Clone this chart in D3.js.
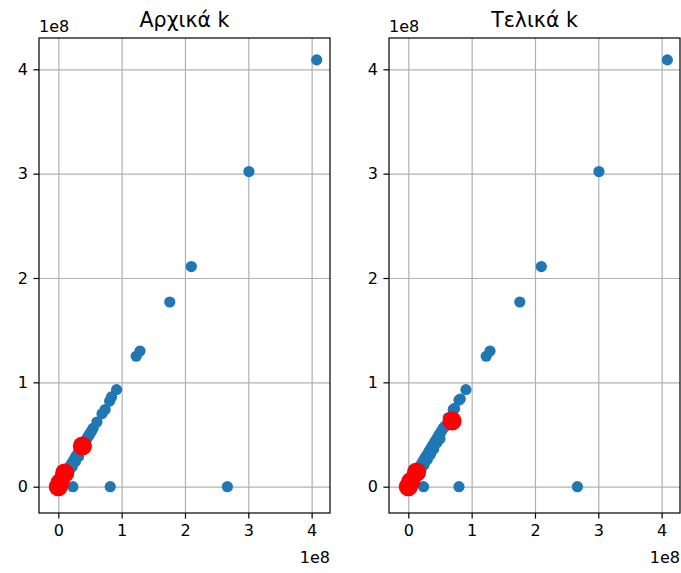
<!DOCTYPE html>
<html>
<head>
<meta charset="utf-8">
<script src="https://cdn.jsdelivr.net/npm/d3@7"></script>
<style>
  body { margin: 0; background: white; }
  text { font-family: "DejaVu Sans", sans-serif; fill: #000; }
</style>
</head>
<body>
<div id="chart"></div>
<script>
// Data (values in units of 1e8)
var titles = ["Αρχικά k", "Τελικά k"];
var tickValues = [0, 1, 2, 3, 4];

// initial k - blue points
var blueX1 = [0.0, 0.01, 0.02, 0.03, 0.05, 0.06, 0.08, 0.09, 0.11, 0.13, 0.14, 0.16, 0.18, 0.19, 0.21, 0.23, 0.25, 0.27, 0.28, 0.30, 0.32, 0.34, 0.36, 0.38, 0.40, 0.42, 0.44, 0.46, 0.48, 0.50, 0.52, 0.55,
              0.12, 0.17, 0.22, 0.27, 0.32,
              0.61, 0.69, 0.74, 0.81, 0.84, 0.92, 1.23, 1.29, 1.76, 2.10, 3.01, 4.08,
              0.23, 0.82, 2.67];
var blueY1 = [0.0, 0.01, 0.03, 0.04, 0.05, 0.07, 0.09, 0.10, 0.12, 0.14, 0.15, 0.17, 0.19, 0.20, 0.22, 0.24, 0.26, 0.28, 0.29, 0.31, 0.33, 0.35, 0.37, 0.39, 0.41, 0.43, 0.45, 0.47, 0.49, 0.51, 0.53, 0.56,
              0.10, 0.15, 0.19, 0.24, 0.29,
              0.62, 0.70, 0.74, 0.82, 0.86, 0.93, 1.25, 1.30, 1.77, 2.11, 3.02, 4.09,
              0.0, 0.0, 0.0];
// initial k - red points
var redX1 = [0.0, 0.03, 0.10, 0.38];
var redY1 = [0.0, 0.04, 0.13, 0.39];

// final k - blue points
var blueX2 = [0.0, 0.01, 0.02, 0.03, 0.05, 0.06, 0.08, 0.09, 0.11, 0.13, 0.14, 0.16, 0.18, 0.19, 0.21, 0.23, 0.25, 0.27, 0.28, 0.30, 0.32, 0.34, 0.36, 0.38, 0.40, 0.42, 0.44, 0.46, 0.48, 0.50, 0.52, 0.55,
              0.15, 0.20, 0.25, 0.30, 0.35, 0.40, 0.45, 0.50,
              0.58, 0.63, 0.71, 0.73, 0.80, 0.82, 0.91, 1.23, 1.29, 1.76, 2.10, 3.01, 4.09,
              0.24, 0.80, 2.67];
var blueY2 = [0.0, 0.01, 0.03, 0.04, 0.05, 0.07, 0.09, 0.10, 0.12, 0.14, 0.15, 0.17, 0.19, 0.20, 0.22, 0.24, 0.26, 0.28, 0.29, 0.31, 0.33, 0.35, 0.37, 0.39, 0.41, 0.43, 0.45, 0.47, 0.49, 0.51, 0.53, 0.56,
              0.12, 0.16, 0.21, 0.26, 0.31, 0.36, 0.42, 0.46,
              0.58, 0.66, 0.74, 0.75, 0.83, 0.84, 0.93, 1.25, 1.30, 1.77, 2.11, 3.02, 4.09,
              0.0, 0.0, 0.0];
// final k - red points
var redX2 = [0.0, 0.04, 0.13, 0.69];
var redY2 = [0.0, 0.05, 0.14, 0.63];

var blueSets = [[blueX1, blueY1], [blueX2, blueY2]];
var redSets = [[redX1, redY1], [redX2, redY2]];

// Layout
var W = 681, H = 573;
var panelLeft = [39, 389];
var panelTop = 38;
var width = 291;
var height = 475;

var svg = d3.select('#chart')
  .append('svg')
  .attr('width', W)
  .attr('height', H)
  .style("background-color", "white");

function drawPanel(p) {
  var x_scale = d3.scaleLinear()
    .domain([-0.305, 4.29])
    .range([0, width]);
  var y_scale = d3.scaleLinear()
    .domain([-0.252, 4.30])
    .range([height, 0]);

  var chart = svg.append('g')
    .attr("transform", "translate(" + panelLeft[p] + "," + panelTop + ")");

  // Gridlines
  chart.append("g")
    .attr("transform", "translate(0," + height + ")")
    .call(d3.axisBottom(x_scale).tickValues(tickValues).tickSize(-height).tickFormat(""))
    .call(function (g) { g.select(".domain").remove(); })
    .selectAll("line")
    .attr("stroke", "#b0b0b0")
    .attr("stroke-width", 1.2);

  chart.append("g")
    .call(d3.axisLeft(y_scale).tickValues(tickValues).tickSize(-width).tickFormat(""))
    .call(function (g) { g.select(".domain").remove(); })
    .selectAll("line")
    .attr("stroke", "#b0b0b0")
    .attr("stroke-width", 1.2);

  // Blue points
  var bx = blueSets[p][0], by = blueSets[p][1];
  chart.append("g")
    .selectAll("circle")
    .data(by)
    .enter()
    .append("circle")
    .attr("cx", function (d, i) { return x_scale(bx[i]); })
    .attr("cy", function (d) { return y_scale(d); })
    .attr("r", 5.6)
    .style("fill", "#1f77b4");

  // Red points
  var rx = redSets[p][0], ry = redSets[p][1];
  chart.append("g")
    .selectAll("circle")
    .data(ry)
    .enter()
    .append("circle")
    .attr("cx", function (d, i) { return x_scale(rx[i]); })
    .attr("cy", function (d) { return y_scale(d); })
    .attr("r", 9.6)
    .style("fill", "red");

  // Axes
  var xAxis = chart.append("g")
    .attr("transform", "translate(0," + height + ")")
    .call(d3.axisBottom(x_scale).tickValues(tickValues).tickSize(5.6).tickPadding(5.6).tickFormat(d3.format("d")));
  var yAxis = chart.append("g")
    .call(d3.axisLeft(y_scale).tickValues(tickValues).tickSize(5.6).tickPadding(5.6).tickFormat(d3.format("d")));

  [xAxis, yAxis].forEach(function (a) {
    a.select(".domain").remove();
    a.selectAll("line").attr("stroke", "#000").attr("stroke-width", 1.2);
    a.selectAll("text").style("font-family", "DejaVu Sans").style("font-size", "16px").attr("fill", "#222");
  });

  // Frame
  chart.append("rect")
    .attr("width", width)
    .attr("height", height)
    .style("fill", "none")
    .style("stroke", "#000")
    .style("stroke-width", 1.2);

  // Offset texts
  chart.append("text")
    .attr("x", 0)
    .attr("y", -6)
    .style("font-size", "16px")
    .attr("fill", "#222")
    .text("1e8");

  chart.append("text")
    .attr("x", width)
    .attr("y", height + 50)
    .style("text-anchor", "end")
    .style("font-size", "16px")
    .attr("fill", "#222")
    .text("1e8");

  // Title
  chart.append("text")
    .attr("x", width / 2)
    .attr("y", -11)
    .style("text-anchor", "middle")
    .style("font-size", "20.5px")
    .text(titles[p]);
}

drawPanel(0);
drawPanel(1);
</script>
</body>
</html>
